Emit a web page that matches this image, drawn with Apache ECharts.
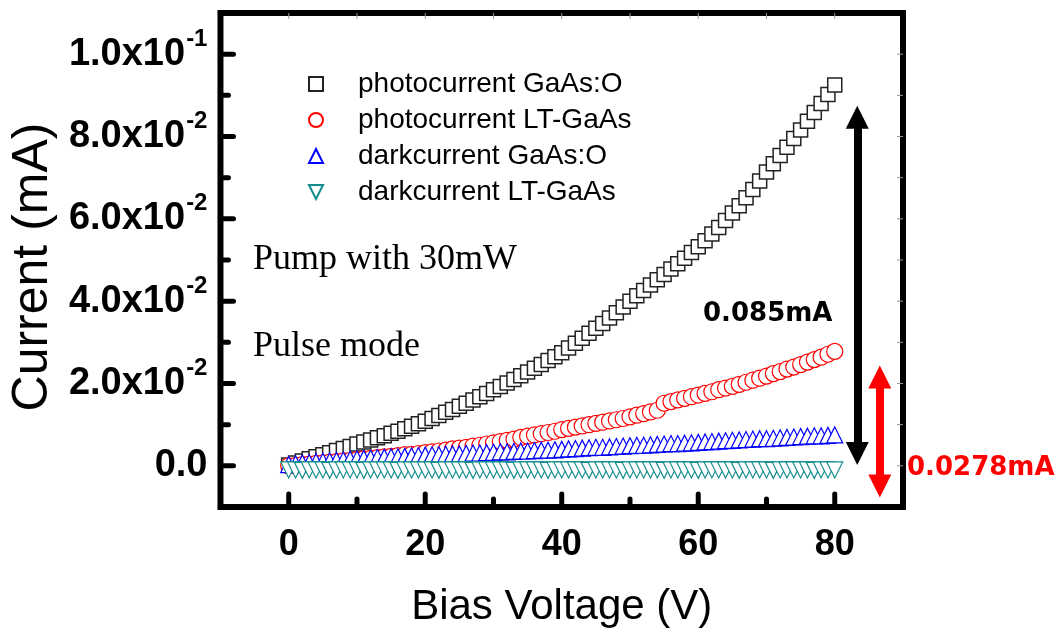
<!DOCTYPE html>
<html>
<head>
<meta charset="utf-8">
<script src="https://cdn.jsdelivr.net/npm/echarts@6/dist/echarts.min.js"></script>
<style>
  html, body { margin: 0; padding: 0; background: #fff; }
  #chart { width: 1062px; height: 633px; }
</style>
</head>
<body>
<div id="chart"></div>
<script>
// Bias voltage sweep (V)
const biasVoltage = [
  0, 1, 2, 3, 4, 5, 6, 7, 8, 9,
  10, 11, 12, 13, 14, 15, 16, 17, 18, 19,
  20, 21, 22, 23, 24, 25, 26, 27, 28, 29,
  30, 31, 32, 33, 34, 35, 36, 37, 38, 39,
  40, 41, 42, 43, 44, 45, 46, 47, 48, 49,
  50, 51, 52, 53, 54, 55, 56, 57, 58, 59,
  60, 61, 62, 63, 64, 65, 66, 67, 68, 69,
  70, 71, 72, 73, 74, 75, 76, 77, 78, 79,
  80
];

// Current (mA) for each sample
const photoGaAsO = [
  0.0002, 0.0007, 0.0012, 0.0017, 0.0022, 0.0027, 0.0032, 0.0037, 0.0042, 0.0047,
  0.0053, 0.0058, 0.0063, 0.0068, 0.0073, 0.0079, 0.0084, 0.0090, 0.0096, 0.0102,
  0.0108, 0.0115, 0.0122, 0.0130, 0.0137, 0.0145, 0.0152, 0.0160, 0.0168, 0.0176,
  0.0185, 0.0193, 0.0201, 0.0210, 0.0219, 0.0228, 0.0237, 0.0246, 0.0256, 0.0265,
  0.0275, 0.0286, 0.0298, 0.0310, 0.0322, 0.0334, 0.0346, 0.0359, 0.0372, 0.0386,
  0.0400, 0.0413, 0.0426, 0.0439, 0.0452, 0.0465, 0.0478, 0.0491, 0.0504, 0.0518,
  0.0532, 0.0547, 0.0563, 0.0579, 0.0596, 0.0614, 0.0632, 0.0651, 0.0671, 0.0692,
  0.0714, 0.0734, 0.0754, 0.0774, 0.0795, 0.0816, 0.0837, 0.0858, 0.0880, 0.0902,
  0.0925
];

const photoLTGaAs = [
  0.0000, 0.0001, 0.0003, 0.0004, 0.0006, 0.0007, 0.0009, 0.0010, 0.0012, 0.0013,
  0.0015, 0.0017, 0.0018, 0.0020, 0.0022, 0.0023, 0.0025, 0.0027, 0.0028, 0.0030,
  0.0032, 0.0034, 0.0036, 0.0038, 0.0041, 0.0043, 0.0045, 0.0048, 0.0050, 0.0053,
  0.0056, 0.0059, 0.0062, 0.0065, 0.0069, 0.0072, 0.0075, 0.0078, 0.0081, 0.0084,
  0.0088, 0.0091, 0.0094, 0.0097, 0.0100, 0.0103, 0.0106, 0.0109, 0.0112, 0.0115,
  0.0119, 0.0123, 0.0127, 0.0131, 0.0135, 0.0152, 0.0156, 0.0160, 0.0164, 0.0168,
  0.0172, 0.0176, 0.0180, 0.0185, 0.0189, 0.0193, 0.0198, 0.0203, 0.0208, 0.0213,
  0.0218, 0.0224, 0.0229, 0.0235, 0.0240, 0.0246, 0.0252, 0.0258, 0.0264, 0.0271,
  0.0278
];

const darkGaAsO = [
  0.0003, 0.0005, 0.0007, 0.0008, 0.0010, 0.0011, 0.0012, 0.0013, 0.0014, 0.0016,
  0.0017, 0.0018, 0.0019, 0.0020, 0.0021, 0.0022, 0.0022, 0.0023, 0.0024, 0.0025,
  0.0026, 0.0027, 0.0027, 0.0028, 0.0029, 0.0029, 0.0030, 0.0031, 0.0031, 0.0032,
  0.0033, 0.0034, 0.0034, 0.0035, 0.0036, 0.0036, 0.0037, 0.0038, 0.0038, 0.0039,
  0.0040, 0.0041, 0.0042, 0.0043, 0.0044, 0.0045, 0.0045, 0.0046, 0.0047, 0.0048,
  0.0049, 0.0050, 0.0050, 0.0051, 0.0052, 0.0053, 0.0054, 0.0054, 0.0055, 0.0056,
  0.0057, 0.0058, 0.0059, 0.0060, 0.0061, 0.0062, 0.0063, 0.0064, 0.0065, 0.0066,
  0.0066, 0.0067, 0.0068, 0.0069, 0.0070, 0.0071, 0.0072, 0.0073, 0.0073, 0.0074,
  0.0075
];

const darkLTGaAs = [
  -0.0010, -0.0010, -0.0011, -0.0010, -0.0010, -0.0010, -0.0011, -0.0010, -0.0010, -0.0010,
  -0.0010, -0.0011, -0.0010, -0.0010, -0.0010, -0.0010, -0.0011, -0.0010, -0.0010, -0.0010,
  -0.0010, -0.0010, -0.0011, -0.0010, -0.0010, -0.0010, -0.0010, -0.0011, -0.0010, -0.0010,
  -0.0010, -0.0010, -0.0010, -0.0011, -0.0010, -0.0010, -0.0010, -0.0010, -0.0011, -0.0010,
  -0.0010, -0.0010, -0.0010, -0.0010, -0.0011, -0.0010, -0.0010, -0.0010, -0.0010, -0.0011,
  -0.0010, -0.0010, -0.0010, -0.0010, -0.0010, -0.0011, -0.0010, -0.0010, -0.0010, -0.0010,
  -0.0011, -0.0010, -0.0010, -0.0010, -0.0010, -0.0010, -0.0011, -0.0010, -0.0010, -0.0010,
  -0.0010, -0.0011, -0.0010, -0.0010, -0.0010, -0.0010, -0.0010, -0.0011, -0.0010, -0.0010,
  -0.0010
];

const seriesNames = [
  'photocurrent GaAs:O',
  'photocurrent LT-GaAs',
  'darkcurrent GaAs:O',
  'darkcurrent LT-GaAs'
];

// Axis ranges, ticks and labels
const xRange = [-10, 90];
const yRange = [-0.01, 0.11];
const xMajorTicks = [0, 20, 40, 60, 80];
const xMinorTicks = [10, 30, 50, 70];
const xTopTicks = [0, 10, 20, 30, 40, 50, 60, 70, 80];
const yMajorTicks = [0, 0.02, 0.04, 0.06, 0.08, 0.1];
const yMinorTicks = [0.01, 0.03, 0.05, 0.07, 0.09];
const yRightTicks = [0, 0.01, 0.02, 0.03, 0.04, 0.05, 0.06, 0.07, 0.08, 0.09, 0.1];
const yMantissa = ['0.0', '2.0', '4.0', '6.0', '8.0', '1.0'];
const yExponent = ['', '-2', '-2', '-2', '-2', '-1'];

// Difference arrows (V position, current span in mA) and their captions
const arrowGaAsO = { v: 83.3, from: 0.0030, to: 0.0847 };
const arrowLTGaAs = { v: 86.6, from: -0.0049, to: 0.0216 };
const captionGaAsO = '0.085mA';
const captionLTGaAs = '0.0278mA';
const noteLines = ['Pump with 30mW', 'Pulse mode'];

const pairs = ys => biasVoltage.map((v, i) => [v, ys[i]]);

const SANS = '"Liberation Sans", Arial, sans-serif';
const SERIF = '"Liberation Serif", "Times New Roman", serif';
const BOLD_SANS = '"DejaVu Sans", Verdana, sans-serif';
const DOWN_TRIANGLE = 'path://M0,0L20,0L10,20Z';

function yLabel(value) {
  let idx = -1;
  for (let i = 0; i < yMajorTicks.length; i++) {
    if (Math.abs(yMajorTicks[i] - value) < 1e-9) idx = i;
  }
  if (idx < 0) return '';
  if (!yExponent[idx]) return '{m|' + yMantissa[idx] + '}';
  return '{m|' + yMantissa[idx] + 'x10}{e|' + yExponent[idx] + '}';
}

function arrowLine(a, color) {
  return {
    silent: true,
    animation: false,
    symbol: ['triangle', 'triangle'],
    symbolSize: [23, 23],
    label: { show: false },
    emphasis: { disabled: true },
    lineStyle: { color: color, width: 8, type: 'solid', opacity: 1 },
    data: [[{ coord: [a.v, a.from] }, { coord: [a.v, a.to] }]]
  };
}

const chart = echarts.init(document.getElementById('chart'), null, { renderer: 'canvas' });

const textElements = [
  {
    type: 'text', left: 253, top: 242, silent: true,
    style: { text: noteLines[0], font: '36px ' + SERIF, fill: '#000' }
  },
  {
    type: 'text', left: 253, top: 329, silent: true,
    style: { text: noteLines[1], font: '36px ' + SERIF, fill: '#000' }
  },
  {
    type: 'text', left: 703, top: 301, silent: true,
    style: { text: captionGaAsO, font: 'bold 26px ' + BOLD_SANS, fill: '#000' }
  },
  {
    type: 'text', left: 907, top: 455, silent: true,
    style: { text: captionLTGaAs, font: 'bold 26px ' + BOLD_SANS, fill: '#ff0000' }
  }
];

chart.setOption({
  animation: false,
  backgroundColor: '#fff',
  grid: {
    left: 220, top: 13, width: 683, height: 500,
    show: true, borderColor: '#000', borderWidth: 6,
    backgroundColor: 'transparent'
  },
  legend: {
    orient: 'vertical',
    left: 303, top: 65,
    itemWidth: 14, itemHeight: 14, itemGap: 8,
    selectedMode: false,
    textStyle: { fontSize: 28, fontFamily: SANS, color: '#000', lineHeight: 28, padding: [0, 0, 0, 30] },
    data: seriesNames
  },
  xAxis: {
    type: 'value', min: xRange[0], max: xRange[1], position: 'bottom',
    axisLine: { show: false, onZero: false },
    splitLine: { show: false },
    axisTick: { show: false },
    axisLabel: {
      customValues: xMajorTicks, margin: 20,
      fontSize: 36, fontWeight: 'bold', fontFamily: SANS, color: '#000'
    },
    name: 'Bias Voltage (V)', nameLocation: 'middle', nameGap: 79,
    nameTextStyle: { fontSize: 42, fontFamily: SANS, color: '#000' }
  },
  yAxis: {
    type: 'value', min: yRange[0], max: yRange[1], position: 'left',
    axisLine: { show: false, onZero: false },
    splitLine: { show: false },
    axisTick: { show: false },
    axisLabel: {
      customValues: yMajorTicks, margin: 13,
      formatter: yLabel,
      rich: {
        m: { fontSize: 38, fontWeight: 'bold', fontFamily: SANS, color: '#000', lineHeight: 42 },
        e: { fontSize: 24, fontWeight: 'bold', fontFamily: SANS, color: '#000', lineHeight: 24, padding: [0, 0, 30, 1] }
      }
    },
    name: 'Current (mA)', nameLocation: 'middle', nameGap: 158,
    nameTextStyle: { fontSize: 50, fontFamily: SANS, color: '#000', padding: [0, 14, 0, 0] }
  },
  series: [
    {
      name: seriesNames[0], type: 'scatter', data: pairs(photoGaAsO),
      symbol: 'rect', symbolSize: 14, silent: true,
      itemStyle: { color: '#fff', borderColor: '#222', borderWidth: 1.5, opacity: 1 },
      markLine: arrowLine(arrowGaAsO, '#000')
    },
    {
      name: seriesNames[1], type: 'scatter', data: pairs(photoLTGaAs),
      symbol: 'circle', symbolSize: 16, silent: true,
      itemStyle: { color: '#fff', borderColor: '#ff0000', borderWidth: 1.2, opacity: 1 },
      markLine: arrowLine(arrowLTGaAs, '#ff0000')
    },
    {
      name: seriesNames[2], type: 'scatter', data: pairs(darkGaAsO),
      symbol: 'triangle', symbolSize: 16, silent: true,
      itemStyle: { color: '#fff', borderColor: '#0000ff', borderWidth: 1.2, opacity: 1 }
    },
    {
      name: seriesNames[3], type: 'scatter', data: pairs(darkLTGaAs),
      symbol: DOWN_TRIANGLE, symbolSize: 16, silent: true,
      itemStyle: { color: '#fff', borderColor: '#138c8c', borderWidth: 1.2, opacity: 1 }
    }
  ],
  graphic: textElements
});

// Frame tick marks, placed through each axis scale.
const px = v => chart.convertToPixel({ xAxisIndex: 0 }, v);
const py = v => chart.convertToPixel({ yAxisIndex: 0 }, v);
// Lower frame edges: one 10 V / 0.01 mA step below zero on each axis
const frameLeft = px(0) - (px(10) - px(0));
const frameBottom = py(0) + (py(0) - py(0.01));
const frameRight = px(xRange[1]);
const frameTop = py(yRange[1]);

function bottomTicks(values, len, w) {
  return values.map(v => ({
    type: 'line', silent: true, z: 100,
    shape: { x1: px(v), y1: frameBottom, x2: px(v), y2: frameBottom - len },
    style: { stroke: '#000', lineWidth: w, lineCap: 'round' }
  }));
}
function leftTicks(values, len, w) {
  return values.map(v => ({
    type: 'line', silent: true, z: 100,
    shape: { x1: frameLeft, y1: py(v), x2: frameLeft + len, y2: py(v) },
    style: { stroke: '#000', lineWidth: w, lineCap: 'round' }
  }));
}
function topTicks(values, len) {
  return values.map(v => ({
    type: 'line', silent: true, z: 100,
    shape: { x1: px(v), y1: frameTop, x2: px(v), y2: frameTop + len },
    style: { stroke: '#999', lineWidth: 1 }
  }));
}
function rightTicks(values, len) {
  return values.map(v => ({
    type: 'line', silent: true, z: 100,
    shape: { x1: frameRight, y1: py(v), x2: frameRight - len, y2: py(v) },
    style: { stroke: '#999', lineWidth: 1 }
  }));
}

const tickElements = [].concat(
  bottomTicks(xMajorTicks, 13, 5),
  bottomTicks(xMinorTicks, 8, 5),
  leftTicks(yMajorTicks, 13, 5),
  leftTicks(yMinorTicks, 8, 5),
  topTicks(xTopTicks, 6),
  rightTicks(yRightTicks, 6)
);

chart.setOption({ graphic: textElements.concat(tickElements) });
</script>
</body>
</html>
